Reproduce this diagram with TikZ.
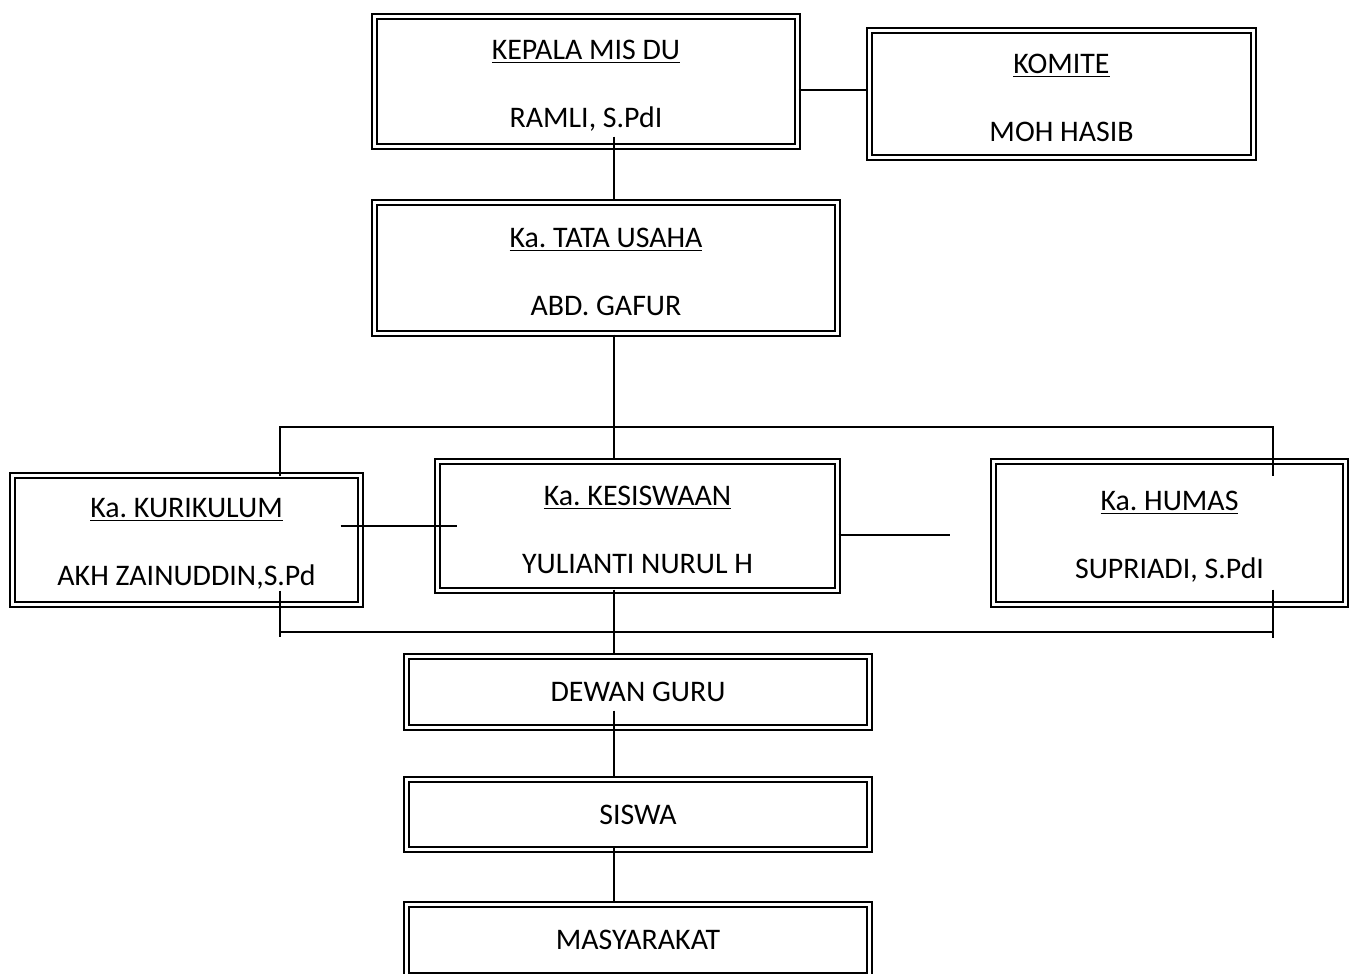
\documentclass[tikz,border=0pt]{standalone}
\usepackage{fontspec}
\setmainfont{Carlito}
\frenchspacing
\usetikzlibrary{calc}
\newcommand\judul[1]{\rule{0pt}{15.5pt}\underline{#1}\\[18.5pt]}
\tikzset{
  kotak/.style={draw,double,line width=1.3pt,double distance=1.2pt,align=center,inner sep=0pt,font=\fontsize{17}{20}\selectfont},
  garis/.style={line width=0.8pt}
}
\begin{document}
\begin{tikzpicture}[x=0.02cm,y=-0.02cm]
	  \useasboundingbox (0,0) rectangle (1357,974);
	  \clip (0,0) rectangle (1357,974);
	  \node (kepala) [kotak,minimum width=8.46cm,minimum height=2.60cm] at (586,81.5) {\judul{KEPALA MIS DU}RAMLI, S.PdI};
	  \node (komite) [kotak,minimum width=7.68cm,minimum height=2.54cm] at (1061.5,94) {\judul{KOMITE}MOH HASIB};
	  \node (tu) [kotak,minimum width=9.26cm,minimum height=2.62cm] at (606,268) {\judul{Ka. TATA USAHA}ABD. GAFUR};
	  \node (kurikulum) [kotak,minimum width=6.96cm,minimum height=2.58cm] at (186.5,540) {\judul{Ka. KURIKULUM}AKH ZAINUDDIN,S.Pd};
	  \node (kesiswaan) [kotak,minimum width=8.00cm,minimum height=2.58cm] at (637.5,526) {\judul{Ka. KESISWAAN}YULIANTI NURUL H};
	  \node (humas) [kotak,minimum width=7.04cm,minimum height=2.86cm] at (1169.5,533) {\judul{Ka. HUMAS}SUPRIADI, S.PdI};
	  \node (dewan) [kotak,minimum width=9.26cm,minimum height=1.42cm] at (638,692) {DEWAN GURU};
	  \node (siswa) [kotak,minimum width=9.26cm,minimum height=1.40cm] at (638,814.5) {SISWA};
	  \node (masyarakat) [kotak,minimum width=9.26cm,minimum height=1.42cm] at (638,940) {MASYARAKAT};
	  \coordinate (tengah) at (614,0);
	  \coordinate (busL) at (280,427);
	  \coordinate (busR) at (1273,427);
	  \coordinate (ujung) at (950,535);
	  \draw [garis] (kepala.east |- 0,90) -- (komite.west |- 0,90);
	  \draw [garis] ($(kepala.south -| tengah)+(0,-11)$) -- (tu.north -| tengah);
	  \draw [garis] (tu.south -| tengah) -- (kesiswaan.north -| tengah);
	  \draw [garis] ($(kurikulum.north -| busL)+(0,2)$) -- (busL) -- (busR) -- ($(humas.north -| busR)+(0,16)$);
	  \draw [garis] ($(kurikulum.east |- 0,526)+(-21,0)$) -- ($(kesiswaan.west |- 0,526)+(21,0)$);
	  \draw [garis] (kesiswaan.east |- ujung) -- (ujung);
	  \draw [garis] ($(kurikulum.south -| busL)+(0,-15)$) -- ($(kurikulum.south -| busL)+(0,31)$);
	  \draw [garis] ($(humas.south -| busR)+(0,-16)$) -- ($(humas.south -| busR)+(0,32)$);
	  \draw [garis] (busL |- 0,632) -- (busR |- 0,632);
	  \draw [garis] ($(kesiswaan.south -| tengah)+(0,-2)$) -- (dewan.north -| tengah);
	  \draw [garis] ($(dewan.south -| tengah)+(0,-18)$) -- (siswa.north -| tengah);
	  \draw [garis] ($(siswa.south -| tengah)+(0,-3)$) -- (masyarakat.north -| tengah);
	\end{tikzpicture}
\end{document}
